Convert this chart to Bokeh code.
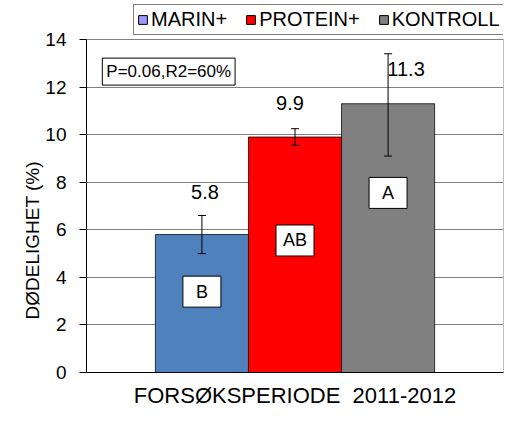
from bokeh.plotting import figure
from bokeh.models import (ColumnDataSource, Range1d, FixedTicker, Whisker, Label,
                          Legend, LegendItem, TeeHead, Title)
from bokeh.embed import file_html
from bokeh.resources import INLINE
from bokeh.core.properties import value

# ---- data ----
groups = ["MARIN+", "PROTEIN+", "KONTROLL"]
mortality = [5.8, 9.9, 11.3]
err_low = [5.0, 9.55, 9.1]
err_high = [6.6, 10.25, 13.4]
letters = ["B", "AB", "A"]
letter_pos = [3.4, 5.55, 7.55]
value_labels = ["5.8", "9.9", "11.3"]
y_ticks = [0, 2, 4, 6, 8, 10, 12, 14]
y_max = 14
x_label = "FORSØKSPERIODE \u00a02011-2012"
y_label = "DØDELIGHET (%)"
stat_text = "P=0.06,R2=60%"

# ---- styles / layout ----
bar_colors = ["#4F81BD", "#FF0000", "#808080"]
legend_colors = ["#9999FF", "#FF0000", "#808080"]
label_xoff = [3, -5, 18]
label_yoff = [-43, -34, -35]
FONT = "Liberation Sans"
W, H = 508, 410
B_LEFT, B_RIGHT, B_TOP, B_BOTTOM = 86, 5, 3, 38
PLOT_TOP = 39            # pixel row of the value 14
frame_h = H - B_TOP - B_BOTTOM
plot_h = H - B_BOTTOM - PLOT_TOP
y_end = y_max * frame_h / plot_h
x_start, x_end = -0.24, 4.24

xpos = [1, 2, 3]
src = ColumnDataSource(dict(x=xpos, top=mortality, lower=err_low, upper=err_high,
                            color=bar_colors, letter=letters, ly=letter_pos,
                            vlab=value_labels, xoff=label_xoff, yoff=label_yoff))

p = figure(width=W, height=H, x_range=Range1d(x_start, x_end), y_range=Range1d(0, y_end),
           output_backend="svg", toolbar_location=None,
           min_border_left=B_LEFT, min_border_right=B_RIGHT, min_border_top=B_TOP,
           min_border_bottom=B_BOTTOM)
p.background_fill_color = "white"
p.border_fill_color = "white"
p.outline_line_color = None

# right border of the plot area
p.segment(x0=[x_end], y0=[0], x1=[x_end], y1=[y_max], line_color="#808080", line_width=1)

p.vbar(x="x", top="top", bottom=0, width=1.0, source=src, fill_color="color",
       line_color="black", line_alpha=0.75, line_width=1)

wh = Whisker(source=src, base="x", upper="upper", lower="lower", line_color="black",
             line_width=1,
             upper_head=TeeHead(size=8, line_color="black", line_width=1),
             lower_head=TeeHead(size=8, line_color="black", line_width=1))
wh.level = "annotation"
p.add_layout(wh)

p.text(x="x", y="top", text="vlab", source=src, x_offset="xoff", y_offset="yoff",
       text_font=value(FONT), text_font_size="20px", text_align="center",
       text_baseline="middle", text_color="black")

p.rect(x="x", y="ly", width=38, height=31, width_units="screen", height_units="screen",
       source=src, fill_color="white", line_color="black", line_width=1)
p.text(x="x", y="ly", text="letter", source=src, text_font=value(FONT),
       text_font_size="18px", text_align="center", text_baseline="middle",
       text_color="black")

stat = Label(x=-0.07, y=12.65, text=stat_text, text_font=FONT, text_font_size="17px",
             text_align="left", text_baseline="middle", border_line_color="black",
             background_fill_color="white", padding=4, text_color="black")
p.add_layout(stat)

# legend: hidden renderers carrying the legend colours
items = []
for g, c in zip(groups, legend_colors):
    r = p.vbar(x="x", top="top", width=1.0, source=src, fill_color=c,
               line_color="black", visible=False)
    items.append(LegendItem(label=g, renderers=[r]))
leg = Legend(items=items, orientation="horizontal", location=(47, plot_h + 4),
             glyph_width=11, glyph_height=11, label_text_font=FONT,
             label_text_font_size="20px", border_line_color="black",
             padding=3, spacing=18, label_standoff=3, margin=0,
             background_fill_color="white", label_text_color="black",
             inactive_fill_alpha=0.0, click_policy="none")
p.add_layout(leg)

# axes
p.yaxis.ticker = FixedTicker(ticks=y_ticks)
p.yaxis.bounds = (0, y_max)
p.yaxis.major_label_text_font = FONT
p.yaxis.major_label_text_font_size = "19px"
p.yaxis.major_label_text_color = "black"
p.yaxis.major_tick_out = 7
p.yaxis.major_tick_in = 0
p.yaxis.minor_tick_line_color = None
p.yaxis.axis_line_color = "black"
p.yaxis.major_tick_line_color = "black"
p.yaxis.major_label_standoff = 13

# y-axis title as a side title, starting above the frame bottom like the reference
ytitle = Title(text=y_label, align="left", text_font=FONT, text_font_size="19px",
               text_font_style="normal", text_color="black", offset=53, standoff=0)
p.add_layout(ytitle, "left")

p.xaxis.ticker = FixedTicker(ticks=[])
p.xaxis.minor_tick_line_color = None
p.xaxis.axis_line_color = "black"
p.xaxis.axis_label = x_label
p.xaxis.axis_label_text_font = FONT
p.xaxis.axis_label_text_font_size = "22px"
p.xaxis.axis_label_text_font_style = "normal"
p.xaxis.axis_label_text_color = "black"
p.xaxis.axis_label_standoff = 10

p.ygrid.grid_line_color = "#808080"
p.xgrid.grid_line_color = None

open("out.html", "w").write(file_html(p, INLINE))
